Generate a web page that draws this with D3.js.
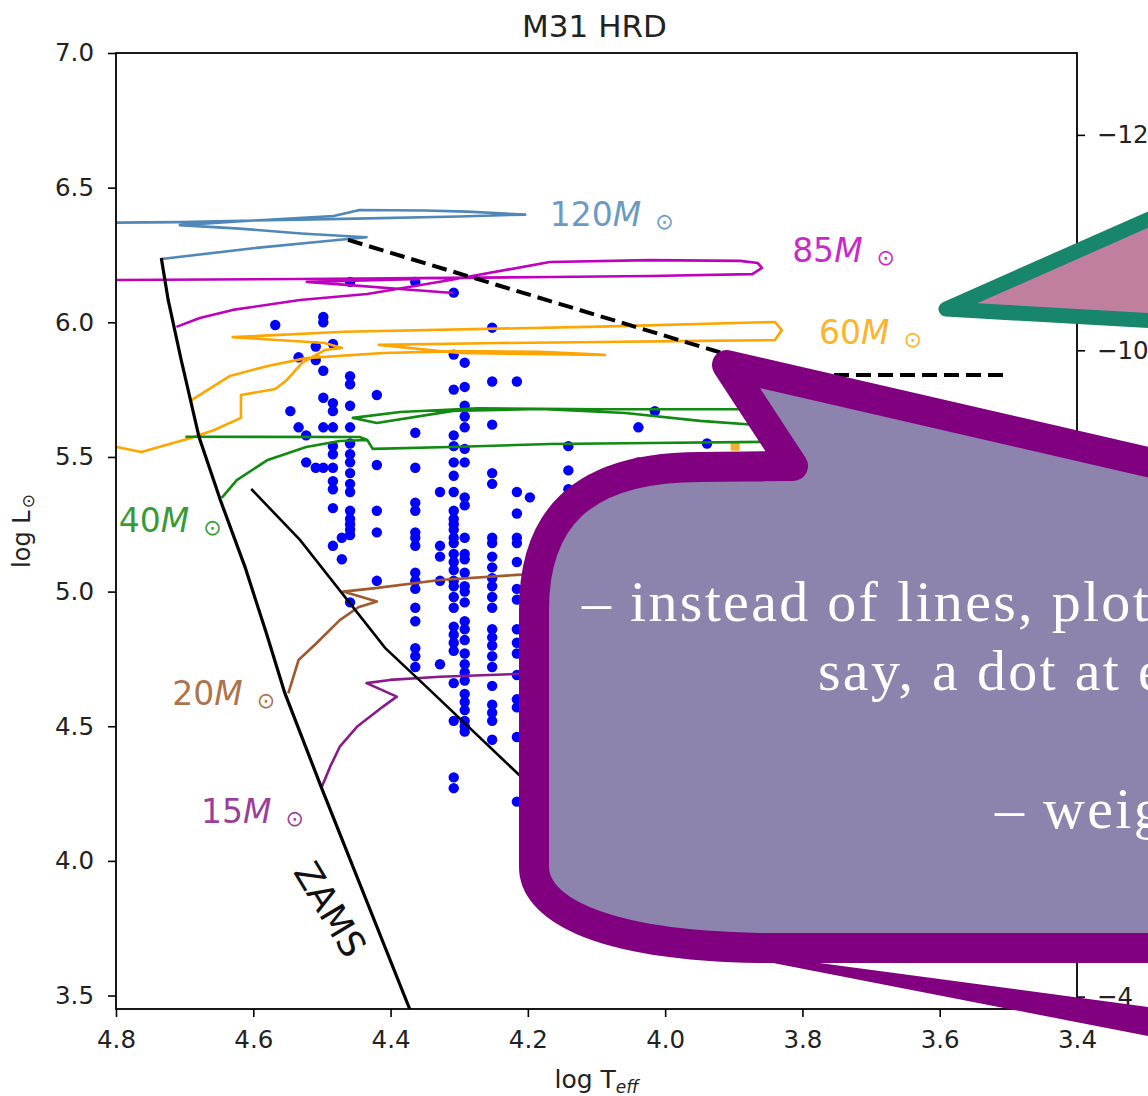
<!DOCTYPE html>
<html>
<head>
<meta charset="utf-8">
<script src="https://cdn.jsdelivr.net/npm/d3@7"></script>
<style>
  html, body { margin: 0; padding: 0; background: #ffffff; }
  svg { display: block; }
</style>
</head>
<body>
<svg id="fig" width="1148" height="1096"></svg>
<script>
// ---------------------------------------------------------------
// M31 Hertzsprung-Russell diagram: stars, evolutionary tracks,
// ZAMS, Humphreys-Davidson limit, with two slide callouts on top.
// ---------------------------------------------------------------

// Axis ticks
const teffTicks = [4.8, 4.6, 4.4, 4.2, 4.0, 3.8, 3.6, 3.4];
const lumTicks  = [3.5, 4.0, 4.5, 5.0, 5.5, 6.0, 6.5, 7.0];
const magTicks  = [-12, -10, -8, -6, -4];

// Observed stars: one log Teff per spectral-type column, with the log L of each star in it
const starTeff = [4.568, 4.546, 4.534, 4.523, 4.509, 4.498, 4.484, 4.471, 4.459, 4.420,
                  4.364, 4.328, 4.308, 4.292, 4.252, 4.216, 4.197, 4.141, 4.039, 4.015, 3.939];
const starLum = [
  [5.99],
  [5.67],
  [5.87, 5.61],
  [5.58, 5.48],
  [5.91, 5.86, 5.46],
  [6.02, 6.00, 5.82, 5.72, 5.61, 5.46],
  [5.92, 5.70, 5.67, 5.61, 5.54, 5.51, 5.46, 5.41, 5.38, 5.31, 5.17],
  [5.20, 5.12],
  [6.15, 5.80, 5.77, 5.69, 5.61, 5.55, 5.51, 5.48, 5.44, 5.40, 5.37, 5.30, 5.27, 5.25, 5.23, 5.21, 4.96],
  [5.73, 5.47, 5.30, 5.22, 5.04],
  [6.15, 5.59, 5.46, 5.33, 5.30, 5.22, 5.20, 5.17, 5.07, 5.04, 5.01, 4.94, 4.89, 4.79, 4.76, 4.72],
  [5.37, 5.17, 5.13, 5.04, 4.73],
  [6.11, 5.88, 5.75, 5.58, 5.54, 5.48, 5.43, 5.37, 5.30, 5.27, 5.25, 5.23, 5.20, 5.18, 5.14, 5.11,
   5.08, 5.04, 5.02, 4.98, 4.94, 4.87, 4.84, 4.81, 4.78, 4.66, 4.52, 4.31, 4.27],
  [5.85, 5.76, 5.69, 5.65, 5.61, 5.53, 5.48, 5.35, 5.32, 5.20, 5.14, 5.12, 5.07, 5.02, 5.00, 4.96,
   4.89, 4.86, 4.82, 4.77, 4.73, 4.70, 4.67, 4.62, 4.59, 4.56, 4.52, 4.50, 4.48],
  [5.98, 5.78, 5.62, 5.44, 5.40, 5.20, 5.18, 5.13, 5.09, 5.05, 5.02, 4.98, 4.94, 4.86, 4.83, 4.80,
   4.76, 4.72, 4.65, 4.58, 4.55, 4.52, 4.45],
  [5.78, 5.37, 5.29, 5.20, 5.18, 5.11, 5.01, 4.97, 4.86, 4.81, 4.77, 4.69, 4.60, 4.57, 4.46, 4.22],
  [5.35],
  [5.54, 5.45, 5.38],
  [5.61, 5.48],
  [5.67],
  [5.55]
];
// A yellow star plotted with a square marker
const yellowStar = [[3.898, 5.54]];

// Evolutionary tracks (log Teff, log L), each as one or more segments
const track120 = [[
  [4.734, 6.235], [4.60, 6.275], [4.50, 6.30], [4.435, 6.316], [4.53, 6.33], [4.62, 6.348],
  [4.707, 6.361], [4.60, 6.378], [4.483, 6.395], [4.445, 6.417], [4.35, 6.415], [4.289, 6.411],
  [4.204, 6.40], [4.30, 6.393], [4.45, 6.385], [4.60, 6.378], [4.707, 6.372], [4.80, 6.370], [4.85, 6.370]
]];
const track85 = [[
  [4.712, 5.983], [4.678, 6.016], [4.630, 6.046], [4.532, 6.083], [4.434, 6.105], [4.313, 6.157],
  [4.168, 6.224], [4.022, 6.231], [3.891, 6.228], [3.865, 6.220], [3.859, 6.202], [3.873, 6.179],
  [4.022, 6.172], [4.168, 6.168], [4.313, 6.165], [4.532, 6.161], [4.80, 6.157], [4.85, 6.157]
], [
  [4.309, 6.109], [4.522, 6.150], [4.357, 6.161]
]];
const track60 = [[
  [4.690, 5.711], [4.634, 5.801], [4.579, 5.838], [4.523, 5.867], [4.411, 5.886], [4.299, 5.893],
  [4.182, 5.890], [4.088, 5.879], [4.300, 5.886], [4.417, 5.916], [4.241, 5.923], [4.095, 5.927],
  [3.949, 5.931], [3.840, 5.934], [3.830, 5.971], [3.840, 6.001], [4.095, 5.984], [4.468, 5.965],
  [4.630, 5.945], [4.496, 5.923], [4.471, 5.905], [4.496, 5.897], [4.529, 5.849], [4.551, 5.786],
  [4.568, 5.752], [4.618, 5.730], [4.618, 5.645], [4.657, 5.600], [4.691, 5.570], [4.763, 5.518],
  [4.799, 5.537], [4.823, 5.552]
]];
const track40 = [[
  [4.646, 5.348], [4.624, 5.414], [4.579, 5.489], [4.523, 5.537], [4.474, 5.559], [4.434, 5.563],
  [4.426, 5.530], [4.313, 5.537], [4.168, 5.548], [4.022, 5.552], [3.847, 5.556]
], [
  [4.699, 5.575], [4.445, 5.574], [4.434, 5.563]
], [
  [3.847, 5.677], [4.095, 5.677], [4.273, 5.681], [4.386, 5.667], [4.455, 5.645], [4.420, 5.626],
  [4.309, 5.671], [4.182, 5.678], [4.058, 5.663], [3.949, 5.634], [3.847, 5.615]
]];
const track20 = [[
  [4.549, 4.622], [4.534, 4.746], [4.508, 4.808], [4.474, 4.894], [4.447, 4.942], [4.420, 4.963],
  [4.469, 5.000], [4.425, 5.012], [4.328, 5.043], [4.216, 5.062], [4.153, 5.069]
]];
const track15 = [[
  [4.500, 4.276], [4.488, 4.350], [4.474, 4.424], [4.449, 4.498], [4.411, 4.573], [4.391, 4.610],
  [4.435, 4.660], [4.401, 4.672], [4.328, 4.684], [4.216, 4.694], [4.153, 4.698]
]];

// Zero-age main sequence
const zams = [[4.734, 6.239], [4.724, 6.083], [4.705, 5.860], [4.679, 5.574], [4.648, 5.340],
              [4.612, 5.091], [4.581, 4.846], [4.554, 4.623], [4.501, 4.274], [4.372, 3.449], [4.365, 3.42]];
// Humphreys-Davidson limit
const hdLimit = [[4.462, 6.306], [3.811, 5.804], [3.500, 5.804]];
// Lower luminosity cut
const lowerCut = [[4.603, 5.381], [4.532, 5.192], [4.408, 4.791], [4.343, 4.635], [4.211, 4.315], [4.153, 4.170]];

// Track styling and labels (label anchor given in log Teff / log L)
const tracks = [
  { mass: "120", segs: track120, color: "#4f88b8", label: [4.168, 6.358] },
  { mass: "85",  segs: track85,  color: "#bf00bf", label: [3.815, 6.224] },
  { mass: "60",  segs: track60,  color: "#ffa500", label: [3.776, 5.919] },
  { mass: "40",  segs: track40,  color: "#108a10", label: [4.796, 5.222] },
  { mass: "20",  segs: track20,  color: "#a0582d", label: [4.718, 4.579] },
  { mass: "15",  segs: track15,  color: "#8a1a8a", label: [4.676, 4.141] }
];

// ---------------------------------------------------------------
const svg = d3.select("#fig");
const plot = { left: 116, right: 1077, top: 53, bottom: 1009 };
const FONT = "'DejaVu Sans', sans-serif";

const x = d3.scaleLinear().domain([4.8, 3.4]).range([plot.left, plot.right]);
const y = d3.scaleLinear().domain([3.45, 7.0]).range([plot.bottom, plot.top]);
const toMag = L => 4.74 - 2.5 * L;
const yMag = d3.scaleLinear().domain([toMag(3.45), toMag(7.0)]).range([plot.bottom, plot.top]);

svg.append("rect").attr("width", 1148).attr("height", 1096).attr("fill", "#fff");

svg.append("defs").append("clipPath").attr("id", "plotClip")
  .append("rect")
  .attr("x", plot.left).attr("y", plot.top)
  .attr("width", plot.right - plot.left).attr("height", plot.bottom - plot.top);

const inner = svg.append("g").attr("clip-path", "url(#plotClip)");

// stars
const stars = starTeff.flatMap((t, i) => starLum[i].map(L => [t, L]));
inner.append("g").selectAll("circle").data(stars).join("circle")
  .attr("cx", d => x(d[0])).attr("cy", d => y(d[1])).attr("r", 5.2)
  .attr("fill", "#0000ff");
inner.append("g").selectAll("rect").data(yellowStar).join("rect")
  .attr("x", d => x(d[0]) - 4.5).attr("y", d => y(d[1]) - 4.5)
  .attr("width", 9).attr("height", 9).attr("fill", "#f0b030");

const line = d3.line().x(d => x(d[0])).y(d => y(d[1]));

// tracks
tracks.forEach(tr => {
  inner.append("g").selectAll("path").data(tr.segs).join("path")
    .attr("d", line).attr("fill", "none")
    .attr("stroke", tr.color).attr("stroke-width", 2.6)
    .attr("stroke-linejoin", "round");
});

inner.append("path").datum(zams).attr("d", line)
  .attr("fill", "none").attr("stroke", "#000").attr("stroke-width", 3.2);
inner.append("path").datum(lowerCut).attr("d", line)
  .attr("fill", "none").attr("stroke", "#000").attr("stroke-width", 2.6);
inner.append("path").datum(hdLimit).attr("d", line)
  .attr("fill", "none").attr("stroke", "#000").attr("stroke-width", 4)
  .attr("stroke-dasharray", "15,7");

// axes
function styleAxis(g) {
  g.select(".domain").remove();
  g.selectAll(".tick line").attr("stroke", "#000").attr("stroke-width", 1.6);
  g.selectAll(".tick text").attr("fill", "#222")
    .style("font-family", FONT).style("font-size", "24.5px");
}
svg.append("g").attr("transform", `translate(${plot.left},0)`)
  .call(d3.axisLeft(y).tickValues(lumTicks).tickFormat(d3.format(".1f")).tickSize(8).tickPadding(14))
  .call(styleAxis);
svg.append("g").attr("transform", `translate(0,${plot.bottom})`)
  .call(d3.axisBottom(x).tickValues(teffTicks).tickFormat(d3.format(".1f")).tickSize(8).tickPadding(14))
  .call(styleAxis);
svg.append("g").attr("transform", `translate(${plot.right},0)`)
  .call(d3.axisRight(yMag).tickValues(magTicks).tickFormat(d3.format("d")).tickSize(8).tickPadding(12))
  .call(styleAxis);

svg.append("rect")
  .attr("x", plot.left).attr("y", plot.top)
  .attr("width", plot.right - plot.left).attr("height", plot.bottom - plot.top)
  .attr("fill", "none").attr("stroke", "#000").attr("stroke-width", 1.8);

// title and axis labels
svg.append("text").attr("x", (plot.left + plot.right) / 2 - 2).attr("y", 37)
  .attr("text-anchor", "middle").attr("fill", "#222")
  .style("font-family", FONT).style("font-size", "31px").text("M31 HRD");

const xl = svg.append("text").attr("x", (plot.left + plot.right) / 2).attr("y", 1088)
  .attr("text-anchor", "middle").attr("fill", "#222")
  .style("font-family", FONT).style("font-size", "25px");
xl.append("tspan").text("log T");
xl.append("tspan").attr("dy", 5).style("font-size", "17px").style("font-style", "italic").text("eff");

const yl = svg.append("text")
  .attr("transform", `translate(30,${(plot.top + plot.bottom) / 2}) rotate(-90)`)
  .attr("text-anchor", "middle").attr("fill", "#222")
  .style("font-family", FONT).style("font-size", "24px");
yl.append("tspan").text("log L");
yl.append("tspan").attr("dx", 2).attr("dy", 4).style("font-size", "17px").text("\u2299");

// mass labels
tracks.forEach(tr => {
  const t = svg.append("text")
    .attr("x", x(tr.label[0])).attr("y", y(tr.label[1]))
    .attr("fill", tr.color).attr("fill-opacity", 0.85)
    .style("font-family", FONT).style("font-size", "33px");
  t.append("tspan").text(tr.mass);
  t.append("tspan").style("font-style", "italic").text("M");
  t.append("tspan").attr("dx", 14).attr("dy", 3).style("font-size", "22px").text("\u2299");
});

// ZAMS label, written along the line
{
  const px = x(4.488), py = y(3.82);
  svg.append("text")
    .attr("transform", `translate(${px},${py}) rotate(59)`)
    .attr("text-anchor", "middle").attr("dy", "0.35em").attr("fill", "#111")
    .style("font-family", FONT).style("font-size", "36px").text("ZAMS");
}

// ---------------------------------------------------------------
// Slide callouts drawn over the figure
// ---------------------------------------------------------------
const over = svg.append("g");

// green-edged pointer coming in from the right
over.append("path")
  .attr("d", "M1260,170 L946,309 L1260,327 Z")
  .attr("fill", "#c07f9d").attr("stroke", "#17866a")
  .attr("stroke-width", 15).attr("stroke-linejoin", "round");

// purple speech bubble
over.append("path")
  .attr("d", "M1230,481 L727,365 L793,466 L700,467 C580,467 534,520 534,610 " +
             "L534,867 C534,905 590,945 760,948 L1230,948 Z")
  .attr("fill", "#8c84ad").attr("stroke", "#800080")
  .attr("stroke-width", 30).attr("stroke-linejoin", "round");
over.append("path")
  .attr("d", "M768,962 L812,962 L1230,1018 L1230,1052 Z")
  .attr("fill", "#800080");

// bubble text
const bubbleLines = [
  { text: "\u2013 instead of lines, plot", x: 582, y: 621 },
  { text: "say, a dot at each", x: 818, y: 690 },
  { text: "\u2013 weight", x: 995, y: 828 }
];
over.append("g").selectAll("text").data(bubbleLines).join("text")
  .attr("x", d => d.x).attr("y", d => d.y)
  .attr("fill", "#ffffff")
  .style("font-family", "'Liberation Serif', serif").style("font-size", "58px")
  .style("letter-spacing", "2.3px")
  .text(d => d.text);
</script>
</body>
</html>
